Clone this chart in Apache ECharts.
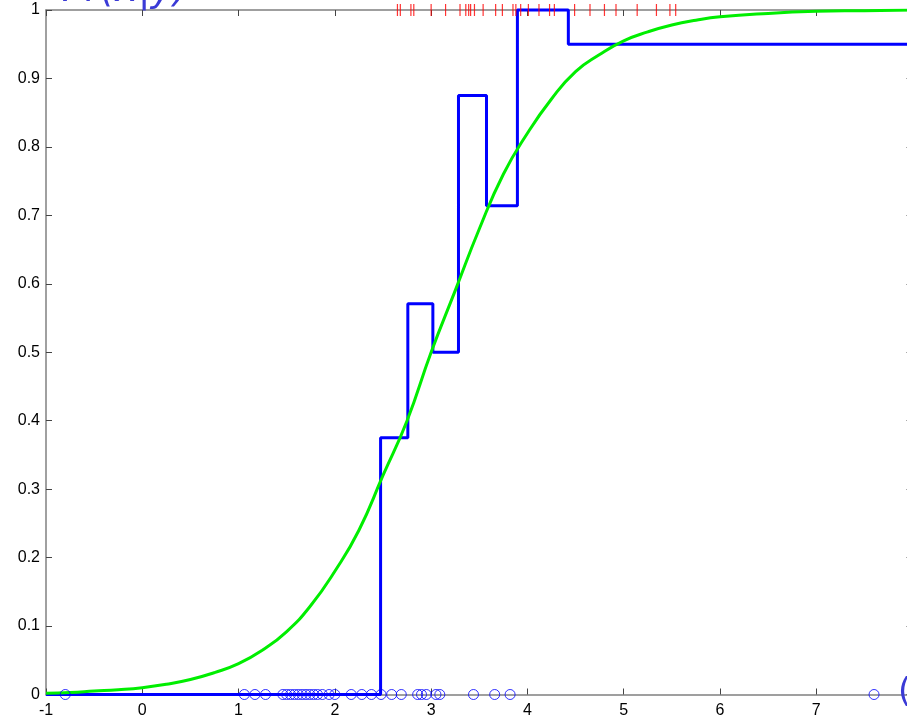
<!DOCTYPE html>
<html>
<head>
<meta charset="utf-8">
<script src="https://cdn.jsdelivr.net/npm/echarts@6/dist/echarts.min.js"></script>
<style>
html,body{margin:0;padding:0;background:#fff;overflow:hidden;width:907px;height:721px;}
#chart{width:920px;height:721px;}
</style>
</head>
<body>
<div id="chart"></div>
<script>
// x tick labels / y tick labels
const xTicks = [-1, 0, 1, 2, 3, 4, 5, 6, 7, 8];
const yTicks = [0, 0.1, 0.2, 0.3, 0.4, 0.5, 0.6, 0.7, 0.8, 0.9, 1];

// Data points of class 0 (blue circles at y = 0)
const class0X = [-0.80, 1.06, 1.17, 1.28, 1.46, 1.50, 1.54, 1.58, 1.62, 1.66, 1.70, 1.74,
  1.78, 1.82, 1.87, 1.94, 2.00, 2.17, 2.28, 2.38, 2.48, 2.59, 2.69, 2.86, 2.90, 2.95,
  3.05, 3.09, 3.44, 3.66, 3.82, 7.60];

// Data points of class 1 (red ticks at y = 1)
const class1X = [2.65, 2.68, 2.79, 2.82, 3.00, 3.15, 3.30, 3.36, 3.39, 3.41, 3.45, 3.54,
  3.67, 3.74, 3.85, 3.88, 3.93, 4.01, 4.12, 4.23, 4.28, 4.49, 4.65, 4.80, 4.92, 5.14,
  5.34, 5.48, 5.54];

// Empirical (binned) estimate: step edges and values
const stepEdges = [-1, 2.475, 2.758, 3.018, 3.284, 3.575, 3.896, 4.425, 8];
const stepValues = [0, 0.375, 0.571, 0.5, 0.875, 0.714, 1.0, 0.95, 0.95];

// Fitted curve, values
const curveX = [-1, -0.75, -0.5, -0.25, 0, 0.25, 0.5, 0.75, 1, 1.25, 1.5, 1.75, 2, 2.25, 2.5, 2.75,
  3, 3.25, 3.5, 3.75, 4, 4.25, 4.5, 4.75, 5, 5.25, 5.5, 5.75, 6, 6.5, 7, 7.5, 8];
const curveY = [0.002, 0.003, 0.005, 0.007, 0.010, 0.015, 0.022, 0.032, 0.045, 0.065, 0.092, 0.13,
  0.18, 0.24, 0.32, 0.40, 0.50, 0.59, 0.68, 0.76, 0.82, 0.87, 0.91, 0.935, 0.955, 0.968, 0.978,
  0.985, 0.990, 0.995, 0.998, 0.999, 1.0];

const chart = echarts.init(document.getElementById('chart'), null, {renderer: 'canvas'});

const axisColor = '#808080';
const font = '"Liberation Sans", Arial, sans-serif';

const xCommon = {
  type: 'value', min: xTicks[0], max: xTicks[xTicks.length - 1], interval: 1,
  splitLine: {show: false},
  axisLine: {show: true, onZero: false, lineStyle: {color: axisColor, width: 1.5}},
  axisTick: {show: true, inside: true, length: 6, lineStyle: {color: '#444', width: 1}}
};
const yCommon = {
  type: 'value', min: yTicks[0], max: yTicks[yTicks.length - 1], interval: 0.1,
  splitLine: {show: false},
  axisLine: {show: true, onZero: false, lineStyle: {color: axisColor, width: 1.5}},
  axisTick: {show: true, inside: true, length: 6, lineStyle: {color: '#444', width: 1}}
};

chart.setOption({
  animation: false,
  backgroundColor: '#fff',
  grid: {left: 46, right: 6.4, top: 10, bottom: 26.5, containLabel: false},
  xAxis: [
    Object.assign({}, xCommon, {
      position: 'bottom',
      axisLabel: {show: true, margin: 8, color: '#000', fontSize: 16, fontFamily: font,
        formatter: v => String(v)}
    }),
    Object.assign({}, xCommon, {position: 'top', axisLabel: {show: false}})
  ],
  yAxis: [
    Object.assign({}, yCommon, {
      position: 'left',
      axisLabel: {show: true, margin: 6, color: '#000', fontSize: 16, fontFamily: font,
        formatter: v => (Math.round(v * 10) / 10).toString()}
    }),
    Object.assign({}, yCommon, {position: 'right', axisLabel: {show: false}})
  ],
  graphic: [
    {type: 'text', left: -8, top: -24, z: 100,
      style: {text: 'J', fill: '#3a3ad6', font: 'italic 40px "DejaVu Sans"'}},
    {type: 'text', left: 62, top: -28, z: 100,
      style: {text: 'Pr(x|y)', fill: '#3a3ad6', font: 'italic 38px "DejaVu Sans"'}},
    {type: 'text', left: 898, top: 676, z: 100,
      style: {text: '(', fill: '#3a3ad6', font: '34px "DejaVu Sans"'}}
  ],
  series: [
    {
      type: 'line', name: 'step', step: 'end', showSymbol: false,
      data: stepEdges.map((x, i) => [x, stepValues[i]]),
      lineStyle: {color: '#0000ff', width: 3}, z: 3, clip: false
    },
    {
      type: 'line', name: 'fit', smooth: true, showSymbol: false,
      data: curveX.map((x, i) => [x, curveY[i]]),
      lineStyle: {color: '#00ee00', width: 3}, z: 4
    },
    {
      type: 'scatter', name: 'class0', symbol: 'circle', symbolSize: 10,
      data: class0X.map(x => [x, 0]),
      itemStyle: {color: 'rgba(0,0,0,0)', borderColor: '#0000ff', borderWidth: 1},
      z: 5, clip: false
    },
    {
      type: 'scatter', name: 'class1', symbol: 'rect', symbolSize: [1.2, 12],
      data: class1X.map(x => [x, 1]),
      itemStyle: {color: '#ff0000'},
      z: 6, clip: false
    }
  ]
});
</script>
</body>
</html>
